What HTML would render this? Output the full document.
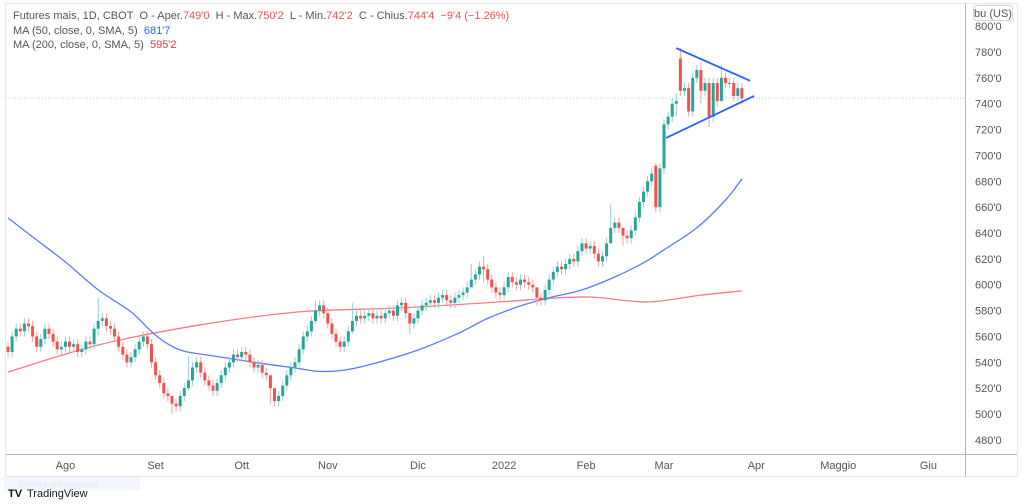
<!DOCTYPE html>
<html><head><meta charset="utf-8"><style>
html,body{margin:0;padding:0;background:#fff;width:1024px;height:504px;overflow:hidden;font-family:"Liberation Sans",sans-serif}
svg text{font-family:"Liberation Sans",sans-serif}
</style></head><body>
<svg id="chart" width="1024" height="504" viewBox="0 0 1024 504" xmlns="http://www.w3.org/2000/svg">
<rect x="5.5" y="3.5" width="1012" height="473" fill="#fff" stroke="#e6e8ec"/>
<line x1="6" y1="454.5" x2="1017" y2="454.5" stroke="#b2b5be"/>
<line x1="965.5" y1="4" x2="965.5" y2="476" stroke="#b2b5be"/>
<g id="yticks"></g>
<g id="xticks"></g>
<line id="priceline" x1="6" x2="965" stroke="#9adcd6" stroke-dasharray="1,2" stroke-width="1"/>
<g id="ma200"></g>
<g id="ma50"></g>
<g id="candles"></g>
<g id="tri"></g>
<g font-size="11" fill="#555">
<text x="13" y="19">Futures mais, 1D, CBOT&#160; O - Aper.<tspan fill="#ef5350">749'0</tspan>&#160; H - Max.<tspan fill="#ef5350">750'2</tspan>&#160; L - Min.<tspan fill="#ef5350">742'2</tspan>&#160; C - Chius.<tspan fill="#ef5350">744'4&#160; −9'4 (−1.26%)</tspan></text>
<text x="13" y="34">MA (50, close, 0, SMA, 5)&#160; <tspan fill="#2962ff">681'7</tspan></text>
<text x="13" y="48">MA (200, close, 0, SMA, 5)&#160; <tspan fill="#f23645">595'2</tspan></text>
</g>
<rect x="973.5" y="5.5" width="39" height="15" rx="3" fill="#fff" stroke="#d1d4dc"/>
<text x="993" y="17" font-size="11" fill="#555" text-anchor="middle">bu (US)</text>
<rect x="4" y="477" width="136" height="13" fill="#f3f7fd"/>
<text x="18" y="487" font-size="9" fill="#e3e8f3">Cattura rettangolare</text>
<text x="8" y="497" font-size="11" font-weight="bold" fill="#131722">TV</text>
<text x="27" y="497" font-size="11" fill="#131722">TradingView</text>
</svg>
<script>
const closes=[548,560,566,564,570,568,560,552,558,566,562,556,550,552,556,552,554,548,550,556,554,566,572,574,568,566,560,552,546,540,544,550,556,560,554,540,530,524,516,514,508,506,514,520,526,536,540,532,526,522,518,524,530,536,540,546,544,548,546,540,536,538,532,530,520,510,514,522,530,536,540,550,560,564,572,580,584,578,570,562,556,552,556,564,572,576,574,576,578,574,576,574,578,580,576,584,586,578,570,574,580,584,586,588,586,590,592,588,586,590,592,594,598,604,608,614,612,604,598,594,592,598,606,602,600,604,602,600,598,590,588,596,604,610,614,612,616,620,618,626,632,628,630,624,618,622,632,644,648,644,638,636,642,652,664,672,680,686,660,690,724,730,740,742,750,752,734,760,766,750,756,730,756,742,760,756,756,746,752,744];
const firstOpen=552;
const openIdx=[158,164,166];
const openVal=[692,775,752];
const wickIdx=[22,40,44,64,65,75,84,98,113,116,129,147,150,158,163,164,169,171,174];
const wickHigh=[590,512,545,530,518,588,586,578,616,622,598,662,642,694,748,783,772,760,770];
const wickLow=[560,500,518,508,506,570,562,562,600,602,584,638,630,656,730,746,740,722,744];
const ma50Idx=[0,7,14,22,30,36,42,50,60,70,76,82,88,100,110,117,125,132,140,148,155,160,168,175,179];
const ma50Val=[651.6,634.6,617.6,596,579,561,549.5,545,540,535.6,533,534,538,549.5,562.7,574,583.6,590,596,606,617,627,644,665.5,681.9];
const ma200Idx=[0,22,47,71,95,120,130,142,156,169,179];
const ma200Val=[532.5,553.4,569,579,582,586.7,589,590.5,586.7,592,595.2];
const yTicks=[480,500,520,540,560,580,600,620,640,660,680,700,720,740,760,780,800];
const monthLabels=["Ago","Set","Ott","Nov","Dic","2022","Feb","Mar","Apr","Maggio","Giu"];
const monthIdx=[14,36,57,78,100,121,141,160,182.5,202.5,224.5];
const triUpper=[[163,783],[181,757.7]];
const triLower=[[160.5,713.5],[182,746]];
const lastPrice=744.4;

const NS="http://www.w3.org/2000/svg";
const X=i=>8+4.1*i;
const Y=p=>52+(780-p)*1.293;
function mk(tag,attrs,parent){const e=document.createElementNS(NS,tag);for(const k in attrs)e.setAttribute(k,attrs[k]);parent.appendChild(e);return e;}

const yt=document.getElementById('yticks');
yTicks.forEach(v=>{const t=mk('text',{x:975,y:Y(v)+4,'font-size':11,fill:'#555'},yt);


t.textContent=v+"'0";});
const xt=document.getElementById('xticks');
monthLabels.forEach((m,k)=>{const t=mk('text',{x:X(monthIdx[k]),y:469,'font-size':11,fill:'#555','text-anchor':'middle'},xt);


t.textContent=m;});
const pl=document.getElementById('priceline');pl.setAttribute('y1',Y(lastPrice));pl.setAttribute('y2',Y(lastPrice));

function line(idx,vals,color,g,name){
const pts=idx.map((i,k)=>[X(i),Y(vals[k])]);
let d='M'+pts[0][0].toFixed(1)+','+pts[0][1].toFixed(1);
for(let k=0;k<pts.length-1;k++){const p0=pts[Math.max(0,k-1)],p1=pts[k],p2=pts[k+1],p3=pts[Math.min(pts.length-1,k+2)];
const c1=[p1[0]+(p2[0]-p0[0])/6,p1[1]+(p2[1]-p0[1])/6],c2=[p2[0]-(p3[0]-p1[0])/6,p2[1]-(p3[1]-p1[1])/6];
d+=' C'+c1[0].toFixed(1)+','+c1[1].toFixed(1)+' '+c2[0].toFixed(1)+','+c2[1].toFixed(1)+' '+p2[0].toFixed(1)+','+p2[1].toFixed(1);}
const p=mk('path',{d:d,fill:'none',stroke:color,'stroke-width':1.3,'stroke-linejoin':'round'},g);

}
line(ma200Idx,ma200Val,'#f77c80',document.getElementById('ma200'),'ma200-line');
line(ma50Idx,ma50Val,'#5b7cfa',document.getElementById('ma50'),'ma50-line');

const cg=document.getElementById('candles');
closes.forEach((c,i)=>{let o=i?closes[i-1]:firstOpen;const oi=openIdx.indexOf(i);if(oi>=0)o=openVal[oi];
const up=c>=o;const col=up?'#26a69a':'#ef5350';
let hi=Math.max(o,c)+4,lo=Math.min(o,c)-4;const w=wickIdx.indexOf(i);if(w>=0){hi=Math.max(wickHigh[w],Math.max(o,c));lo=Math.min(wickLow[w],Math.min(o,c));}
const x=X(i);
const wk=mk('line',{x1:x,x2:x,y1:Y(hi),y2:Y(lo),stroke:up?'#8fd3cc':'#f5a3a1','stroke-width':1},cg);


const yt1=Y(Math.max(o,c)),yb=Y(Math.min(o,c));
const b=mk('rect',{x:x-1.5,y:yt1,width:3,height:Math.max(1,yb-yt1),fill:col},cg);

});

const tg=document.getElementById('tri');
[triUpper,triLower].forEach((s,k)=>{const l=mk('line',{x1:X(s[0][0]),y1:Y(s[0][1]),x2:X(s[1][0]),y2:Y(s[1][1]),stroke:'#2962ff','stroke-width':1.8},tg);

});
</script>
</body></html>
